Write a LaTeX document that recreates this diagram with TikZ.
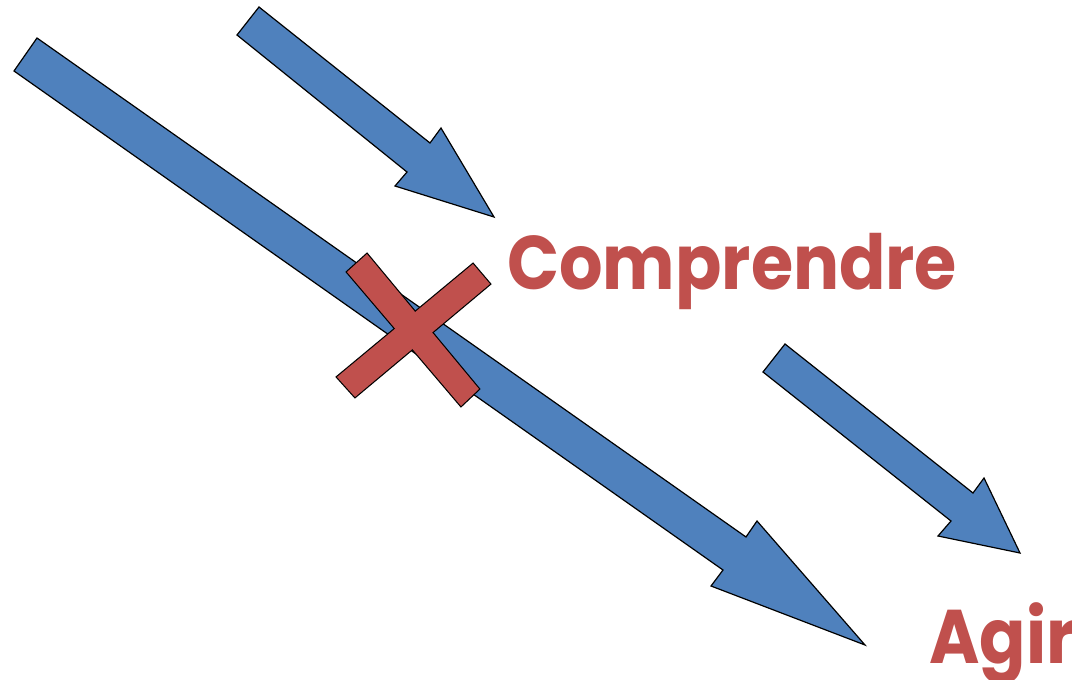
\documentclass[tikz,border=0pt]{standalone}
\usepackage{fontspec}
\setmainfont{Poppins}
\usepackage{tikz}
\usetikzlibrary{positioning}

\definecolor{arrowblue}{HTML}{4F81BD}
\definecolor{crossred}{HTML}{C0504D}

\begin{document}
\begin{tikzpicture}[
  x=1pt, y=-1pt,
  blockarrow/.style={draw=black, line width=1.2pt, fill=arrowblue, line join=miter},
  crossline/.style={draw=black, line width=2.4pt, line join=miter},
  label/.style={text=crossred, font=\fontsize{76}{80}\selectfont\bfseries, inner sep=0pt, anchor=base west, xscale=0.9}
]
\useasboundingbox (0,0) rectangle (1072,680);

% long arrow, crossed out
\draw[blockarrow] (14,71) -- (37,38) -- (746,537) -- (757,521) -- (865,645)
  -- (711,586) -- (723,570) -- cycle;
% arrow to "Comprendre"
\draw[blockarrow] (237,35) -- (259,7) -- (430,143) -- (441,128) -- (494,217)
  -- (395,186) -- (407,172) -- cycle;
% arrow to "Agir"
\draw[blockarrow] (763,372) -- (785,344) -- (973,493) -- (984,478) -- (1020,553)
  -- (938,536) -- (951,521) -- cycle;

% the cross: outlines first, then both bars filled on top
\draw[crossline] (347,272) -- (367,254) -- (479,389) -- (461,406) -- cycle;
\draw[crossline] (337,377) -- (473,264) -- (490,284) -- (355,397) -- cycle;
\fill[crossred] (347,272) -- (367,254) -- (479,389) -- (461,406) -- cycle;
\fill[crossred] (337,377) -- (473,264) -- (490,284) -- (355,397) -- cycle;

\node[label] (comprendre) at (507,289) {Comprendre};
\node[label] (agir) at (929,663) {Agir};
\end{tikzpicture}
\end{document}
